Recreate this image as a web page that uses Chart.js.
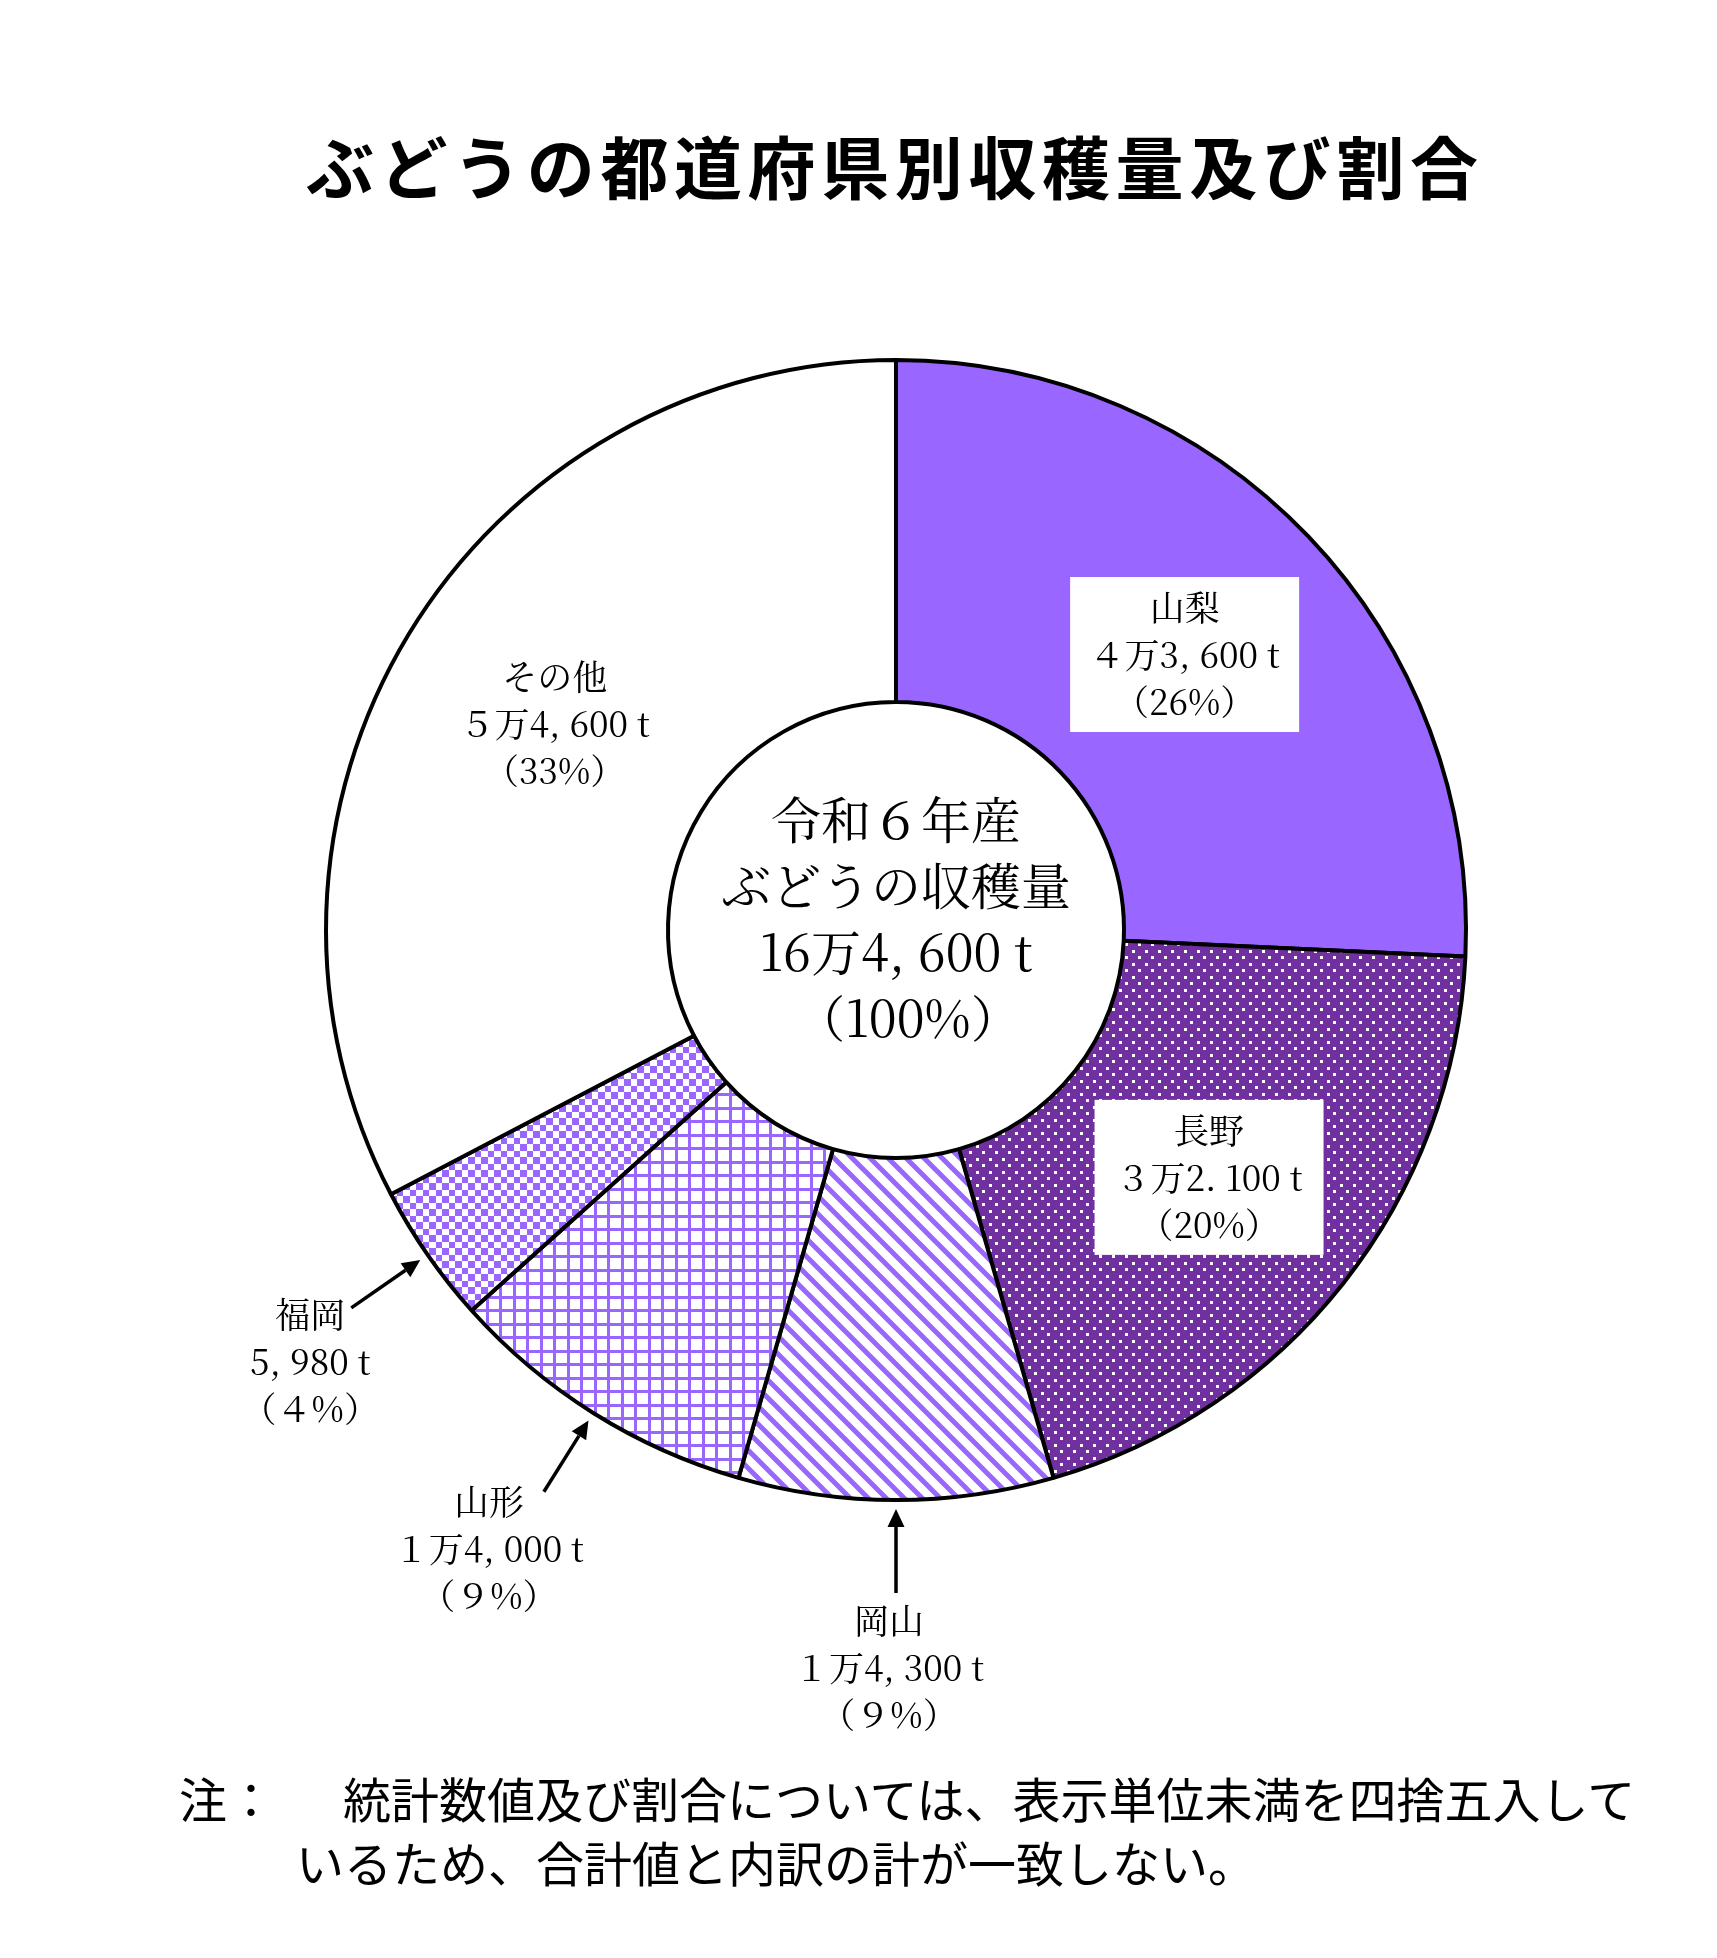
<!DOCTYPE html>
<html lang="ja">
<head>
<meta charset="utf-8">
<title>ぶどうの都道府県別収穫量及び割合</title>
<script src="https://cdn.jsdelivr.net/npm/chart.js@4.4.1/dist/chart.umd.min.js"></script>
<style>
  html, body { margin: 0; padding: 0; background: #fff; }
  #wrap { position: relative; width: 1717px; height: 1958px; overflow: hidden; }
  #grapeChart { position: absolute; left: 0; top: 0; }
  .title {
    position: absolute; left: 306px; top: 131px;
    font: 700 68px "Noto Sans CJK JP", sans-serif; line-height: 68px;
    letter-spacing: 5.6px; white-space: nowrap; color: #000;
  }
  .note {
    position: absolute;
    font: 400 48px "Noto Sans CJK JP", sans-serif; line-height: 48px;
    white-space: nowrap; color: #000;
  }
</style>
</head>
<body>
<div id="wrap">
  <canvas id="grapeChart" width="1717" height="1958"></canvas>
  <div class="title">ぶどうの都道府県別収穫量及び割合</div>
  <div class="note" style="left:179px; top:1773px;">注：</div>
  <div class="note" style="left:343px; top:1773px;">統計数値及び割合については、表示単位未満を四捨五入して</div>
  <div class="note" style="left:296px; top:1837px;">いるため、合計値と内訳の計が一致しない。</div>
</div>
<script>
// data (slices are drawn from the rounded shares, as in the original)
const prefectures = ["山梨", "長野", "岡山", "山形", "福岡", "その他"];
const harvestTons = [43600, 32100, 14300, 14000, 5980, 54600];
const sharePct = [26, 20, 9, 9, 4, 33];
const tonLabels = ["４万3, 600 t", "３万2. 100 t", "１万4, 300 t", "１万4, 000 t", "5, 980 t", "５万4, 600 t"];
const centerLines = ["令和６年産", "ぶどうの収穫量", "16万4, 600 t", "（100%）"];

const LILAC = "#9966ff";
const GRAPE = "#7030a0";
const LABEL_FONT = '35px "Noto Serif CJK JP", "Liberation Serif", "Noto Sans CJK JP", serif';
const CENTER_FONT = '50px "Noto Serif CJK JP", "Liberation Serif", "Noto Sans CJK JP", serif';

// single digits are printed full width in the original
const fullWidth = n => n < 10
    ? String(n).replace(/[0-9]/g, d => String.fromCharCode(d.charCodeAt(0) + 0xFEE0))
    : String(n);
const shareLabels = sharePct.map(p => "（" + fullWidth(p) + "%）");

/* ==========================
   Fill patterns
========================== */
const canvas = document.getElementById("grapeChart");
const mainCtx = canvas.getContext("2d");

function makePattern(w, h, draw) {
    const c = document.createElement("canvas");
    c.width = w;
    c.height = h;
    draw(c.getContext("2d"), w, h);
    return mainCtx.createPattern(c, "repeat");
}

const dotted = makePattern(13, 13, g => {
    g.fillStyle = GRAPE;
    g.fillRect(0, 0, 13, 13);
    g.fillStyle = "#fff";
    g.fillRect(1, 1, 3, 3);
    g.fillRect(7, 7, 3, 3);
});

const striped = makePattern(18, 18, g => {
    g.fillStyle = "#fff";
    g.fillRect(0, 0, 18, 18);
    g.strokeStyle = LILAC;
    g.lineWidth = 5;
    g.beginPath();
    for (let k = -1; k <= 1; k++) {
        g.moveTo(-2, -2 + 18 * k);
        g.lineTo(20, 20 + 18 * k);
    }
    g.stroke();
});

const gridded = makePattern(27, 27, g => {
    g.fillStyle = "#fff";
    g.fillRect(0, 0, 27, 27);
    g.fillStyle = LILAC;
    g.fillRect(0, 0, 3, 27);
    g.fillRect(13, 0, 3, 27);
    g.fillRect(0, 0, 27, 3);
    g.fillRect(0, 13, 27, 3);
});

const checkered = makePattern(13, 13, g => {
    g.fillStyle = "#fff";
    g.fillRect(0, 0, 13, 13);
    g.fillStyle = LILAC;
    g.fillRect(0, 0, 7, 7);
    g.fillRect(7, 7, 6, 6);
});

const sliceFills = [LILAC, dotted, striped, gridded, checkered, "#ffffff"];

// how each label is placed: inside the slice (optionally on a white box) or outside with an arrow
const labelLayout = [
    { inside: true, box: true },
    { inside: true, box: true },
    { inside: false, dx: -7, dy: 28 },
    { inside: false, dx: -55, dy: 10 },
    { inside: false, dx: -41, dy: 7 },
    { inside: true, box: false }
];

/* ==========================
   Label plugin
========================== */
const LINE_GAP = 47;

function drawLines(ctx, lines, cx, firstY) {
    lines.forEach((t, k) => ctx.fillText(t, cx, firstY + k * LINE_GAP));
}

const sliceLabels = {
    id: "sliceLabels",
    afterDatasetsDraw(chart) {
        const ctx = chart.ctx;
        const arcs = chart.getDatasetMeta(0).data;
        ctx.save();
        ctx.textAlign = "center";
        ctx.textBaseline = "middle";

        arcs.forEach((arc, i) => {
            const { x, y, startAngle, endAngle, outerRadius } =
                arc.getProps(["x", "y", "startAngle", "endAngle", "outerRadius"], true);
            const mid = (startAngle + endAngle) / 2;
            const ux = Math.cos(mid), uy = Math.sin(mid);
            const lay = labelLayout[i];
            const lines = [prefectures[i], tonLabels[i], shareLabels[i]];
            ctx.font = LABEL_FONT;

            if (lay.inside) {
                const cx = x + ux * outerRadius * 0.7;
                const cy = y + uy * outerRadius * 0.7;
                if (lay.box) {
                    ctx.fillStyle = "#fff";
                    ctx.fillRect(cx - 114.5, cy - 77.5, 229, 155);
                }
                ctx.fillStyle = "#000";
                drawLines(ctx, lines, cx, cy - LINE_GAP);
            } else {
                const tipR = outerRadius + 9, tailR = outerRadius + 93;
                const tipX = x + ux * tipR, tipY = y + uy * tipR;
                const tailX = x + ux * tailR, tailY = y + uy * tailR;
                const baseX = tipX + ux * 18, baseY = tipY + uy * 18;

                ctx.strokeStyle = "#000";
                ctx.lineWidth = 3.5;
                ctx.beginPath();
                ctx.moveTo(tailX, tailY);
                ctx.lineTo(baseX, baseY);
                ctx.stroke();

                ctx.fillStyle = "#000";
                ctx.beginPath();
                ctx.moveTo(tipX, tipY);
                ctx.lineTo(baseX - uy * 8.5, baseY + ux * 8.5);
                ctx.lineTo(baseX + uy * 8.5, baseY - ux * 8.5);
                ctx.closePath();
                ctx.fill();

                drawLines(ctx, lines, tailX + lay.dx, tailY + lay.dy);
            }
        });

        // total in the hole (last line sits a little right, as in the original)
        const c = arcs[0];
        ctx.font = CENTER_FONT;
        ctx.fillStyle = "#000";
        centerLines.forEach((t, k) => {
            const shift = k === centerLines.length - 1 ? 12 : 0;
            ctx.fillText(t, c.x + shift, c.y - 110 + k * 66);
        });
        ctx.restore();
    }
};

/* ==========================
   Doughnut
========================== */
new Chart(canvas, {
    type: "doughnut",
    data: {
        labels: prefectures,
        datasets: [{
            data: sharePct,
            backgroundColor: sliceFills,
            borderColor: "#000",
            borderWidth: 4
        }]
    },
    options: {
        responsive: false,
        animation: false,
        devicePixelRatio: 1,
        events: [],
        radius: 570,
        cutout: "40%",
        layout: { padding: { left: 75, right: 0, top: 0, bottom: 98 } },
        plugins: {
            legend: { display: false },
            tooltip: { enabled: false }
        }
    },
    plugins: [sliceLabels]
});
</script>
</body>
</html>
